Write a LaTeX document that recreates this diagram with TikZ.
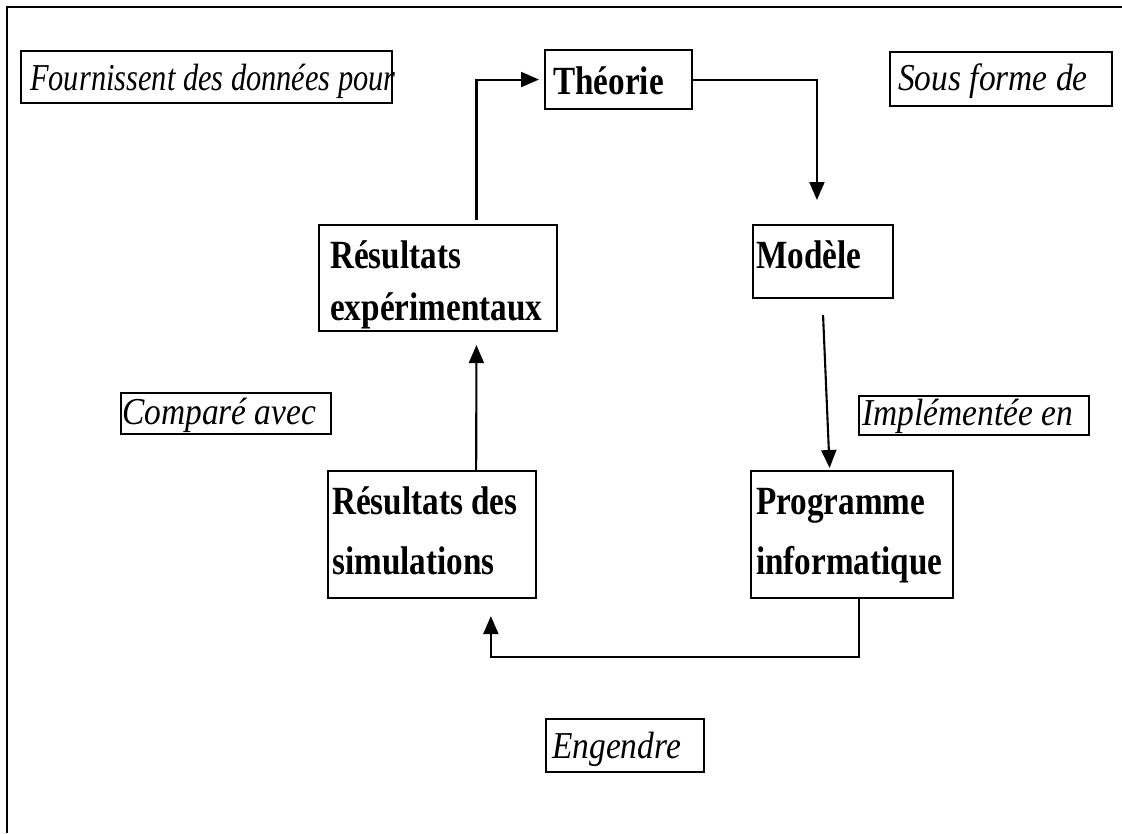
\documentclass[tikz,border=0pt]{standalone}
\usepackage{fontspec}
\setmainfont{Liberation Serif}
\newfontfamily\ttlfont{Liberation Serif}[FakeStretch=0.83]
\newfontfamily\lblfont{Liberation Serif}[FakeStretch=0.88]
\newfontfamily\narrowlblfont{Liberation Serif}[FakeStretch=0.8]
\usetikzlibrary{arrows.meta,calc}
\begin{document}
\begin{tikzpicture}[x=1pt,y=-1pt,
  box/.style={draw, line width=2.1pt, inner sep=0pt, anchor=north west},
  lbl/.style={anchor=base west, inner sep=0pt, font=\fontsize{38}{44}\lblfont\itshape},
  ttl/.style={anchor=base west, inner sep=0pt, font=\fontsize{40}{46}\ttlfont\bfseries},
  link/.style={line width=2.1pt, -{Triangle[length=18pt,width=15pt]}}
]
\useasboundingbox (0,0) rectangle (1122,833);

% outer frame (top and left edges only)
\draw[line width=2.8pt] (7,833) -- (7,7) -- (1122,7);

% boxes
\node[box, minimum width=371pt, minimum height=52pt] (fourn) at (20,50) {};
\node[box, minimum width=147pt, minimum height=59pt] (theo) at (544,49) {};
\node[box, minimum width=222pt, minimum height=54pt] (sous) at (889,51) {};
\node[box, minimum width=238pt, minimum height=106pt] (resexp) at (318,224) {};
\node[box, minimum width=140pt, minimum height=73pt] (model) at (752,224) {};
\node[box, minimum width=210pt, minimum height=41pt] (compare) at (120,392) {};
\node[box, minimum width=230pt, minimum height=39pt] (implem) at (858,395) {};
\node[box, minimum width=208pt, minimum height=127pt] (ressim) at (327,470) {};
\node[box, minimum width=202pt, minimum height=127pt] (prog) at (750,470) {};
\node[box, minimum width=158pt, minimum height=53pt] (engendre) at (545,718) {};

% texts
\node[lbl, font=\fontsize{38}{44}\narrowlblfont\itshape] (tfourn) at (30,90) {Fournissent des données pour};
\node[ttl] (ttheo) at (553,94) {Théorie};
\node[lbl] (tsous) at (898,90) {Sous forme de};
\node[ttl] (tresexp1) at (330,268) {Résultats};
\node[ttl] (tresexp2) at (330,320) {expérimentaux};
\node[ttl] (tmodel) at (756,268) {Modèle};
\node[lbl] (tcompare) at (122,424) {Comparé avec};
\node[lbl] (timplem) at (862,425) {Implémentée en};
\node[ttl] (tressim1) at (332,514) {Résultats des};
\node[ttl] (tressim2) at (332,574) {simulations};
\node[ttl] (tprog1) at (756,514) {Programme};
\node[ttl] (tprog2) at (756,574) {informatique};
\node[lbl] (tengendre) at (552,758) {Engendre};

% connector end points
\coordinate (reTop) at ($(resexp.north west)!0.66!(resexp.north east)+(0,-4)$);
\coordinate (moTop) at ($(model.north west)!0.457!(model.north east)$);
\coordinate (moBot) at ($(model.south west)!0.5!(model.south east)+(0,16)$);
\coordinate (prTop) at ($(prog.north west)!0.39!(prog.north east)+(0,-2)$);
\coordinate (rsTop) at ($(ressim.north west)!0.71!(ressim.north east)$);
\coordinate (prBot) at ($(prog.south west)!0.535!(prog.south east)$);
\coordinate (rsBot) at ($(ressim.south west)!0.78!(ressim.south east)$);

% connectors
\draw[link, shorten >=5pt] (reTop) |- (theo.west);
\draw[link, shorten >=24pt] (theo.east) -| (moTop);
\draw[link] (moBot) -- (prTop);
\draw[link, shorten >=13pt] (rsTop) -- (reTop |- resexp.south);
\draw[link, shorten >=17pt] (prBot) -- ++(0,58) -| (rsBot);
\end{tikzpicture}
\end{document}
